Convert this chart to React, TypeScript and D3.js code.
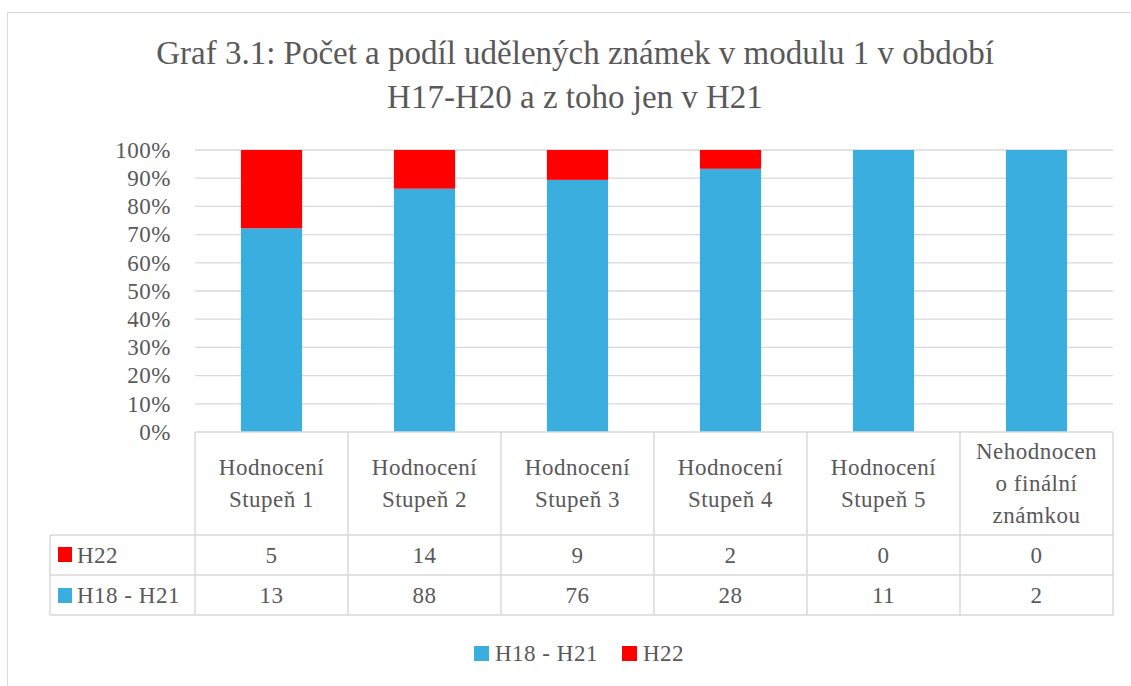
import * as d3 from 'd3';
import React from 'react';

const categories = [
  ['Hodnocení', 'Stupeň 1'],
  ['Hodnocení', 'Stupeň 2'],
  ['Hodnocení', 'Stupeň 3'],
  ['Hodnocení', 'Stupeň 4'],
  ['Hodnocení', 'Stupeň 5'],
  ['Nehodnocen', 'o finální', 'známkou'],
];
const h22 = [5, 14, 9, 2, 0, 0];
const h18h21 = [13, 88, 76, 28, 11, 2];
const yTicks = [0, 0.1, 0.2, 0.3, 0.4, 0.5, 0.6, 0.7, 0.8, 0.9, 1];

const BLUE = '#3AAFDF';
const RED = '#FF0000';
const GRID = '#D9D9D9';
const TEXT = '#595959';
const FONT = "'Liberation Serif', serif";
const FS = 23;
const LS = 0.5;

function App() {
  const W = 1131, H = 686;
  const left = 195, right = 1113, top = 150, bottom = 432;
  const tableLeft = 50;
  const headBottom = 535, row1Bottom = 575, row2Bottom = 615;

  const x = d3.scaleBand<number>()
    .domain(d3.range(categories.length))
    .range([left, right])
    .paddingInner(0.6)
    .paddingOuter(0.3);
  const y = d3.scaleLinear().domain([0, 1]).range([bottom, top]);
  const fmt = d3.format('.0%');

  const step = x.step();
  const colEdges = d3.range(categories.length + 1).map(i => left + i * step);
  const cx = (i: number) => (x(i) as number) + x.bandwidth() / 2;

  // stack: blue first (bottom), red on top
  const data = categories.map((_, i) => {
    const total = h22[i] + h18h21[i];
    return { i, blue: h18h21[i] / total, red: h22[i] / total };
  });

  const txt = { fontSize: FS, fill: TEXT, letterSpacing: LS };

  return (
    <svg width={W} height={H} style={{ position: 'absolute', left: 0, top: 0, display: 'block', background: '#fff', fontFamily: FONT }}>
      <rect x={7.5} y={12.5} width={1130} height={690} fill="#fff" stroke={GRID} strokeWidth={1} />

      {/* title */}
      <text x={575} y={64} textAnchor="middle" fontSize={33} fill={TEXT}>
        Graf 3.1: Počet a podíl udělených známek v modulu 1 v období
      </text>
      <text x={575} y={108} textAnchor="middle" fontSize={33} fill={TEXT}>
        H17-H20 a z toho jen v H21
      </text>

      {/* gridlines + y labels */}
      {yTicks.map(t => (
        <g key={t}>
          {t > 0 && <line x1={left} x2={right} y1={y(t)} y2={y(t)} stroke={GRID} strokeWidth={1.3} />}
          <text x={171} y={y(t)} dy="0.34em" textAnchor="end" {...txt}>{fmt(t)}</text>
        </g>
      ))}

      {/* bars */}
      {data.map(d => (
        <g key={d.i}>
          <rect x={x(d.i)} width={x.bandwidth()} y={y(d.blue)} height={y(0) - y(d.blue)} fill={BLUE} />
          {d.red > 0 && (
            <rect x={x(d.i)} width={x.bandwidth()} y={y(1)} height={y(d.blue) - y(1)} fill={RED} />
          )}
        </g>
      ))}

      {/* data table */}
      <g stroke={GRID} strokeWidth={1.5}>
        <line x1={left} x2={right} y1={bottom} y2={bottom} />
        <line x1={tableLeft} x2={right} y1={headBottom} y2={headBottom} />
        <line x1={tableLeft} x2={right} y1={row1Bottom} y2={row1Bottom} />
        <line x1={tableLeft} x2={right} y1={row2Bottom} y2={row2Bottom} />
        <line x1={tableLeft} x2={tableLeft} y1={headBottom} y2={row2Bottom} />
        {colEdges.map((ex, i) => (
          <line key={i} x1={ex} x2={ex} y1={bottom} y2={row2Bottom} />
        ))}
      </g>

      {categories.map((lines, i) => {
        const lh = 32;
        const mid = (bottom + headBottom) / 2;
        const start = mid - ((lines.length - 1) * lh) / 2;
        return (
          <text key={i} textAnchor="middle" {...txt}>
            {lines.map((l, j) => (
              <tspan key={j} x={cx(i)} y={start + j * lh} dy="0.34em">{l}</tspan>
            ))}
          </text>
        );
      })}

      {h22.map((v, i) => (
        <text key={'r' + i} x={cx(i)} y={(headBottom + row1Bottom) / 2} dy="0.34em" textAnchor="middle" {...txt}>{v}</text>
      ))}
      {h18h21.map((v, i) => (
        <text key={'b' + i} x={cx(i)} y={(row1Bottom + row2Bottom) / 2} dy="0.34em" textAnchor="middle" {...txt}>{v}</text>
      ))}

      <rect x={58} y={547} width={14} height={15} fill={RED} />
      <text x={77} y={(headBottom + row1Bottom) / 2} dy="0.34em" {...txt}>H22</text>
      <rect x={58} y={588} width={14} height={15} fill={BLUE} />
      <text x={77} y={(row1Bottom + row2Bottom) / 2} dy="0.34em" {...txt}>H18 - H21</text>

      {/* legend */}
      <rect x={474} y={646} width={15} height={15} fill={BLUE} />
      <text x={495} y={653.5} dy="0.34em" {...txt}>H18 - H21</text>
      <rect x={622} y={646} width={15} height={15} fill={RED} />
      <text x={643} y={653.5} dy="0.34em" {...txt}>H22</text>
    </svg>
  );
}

export default App;
